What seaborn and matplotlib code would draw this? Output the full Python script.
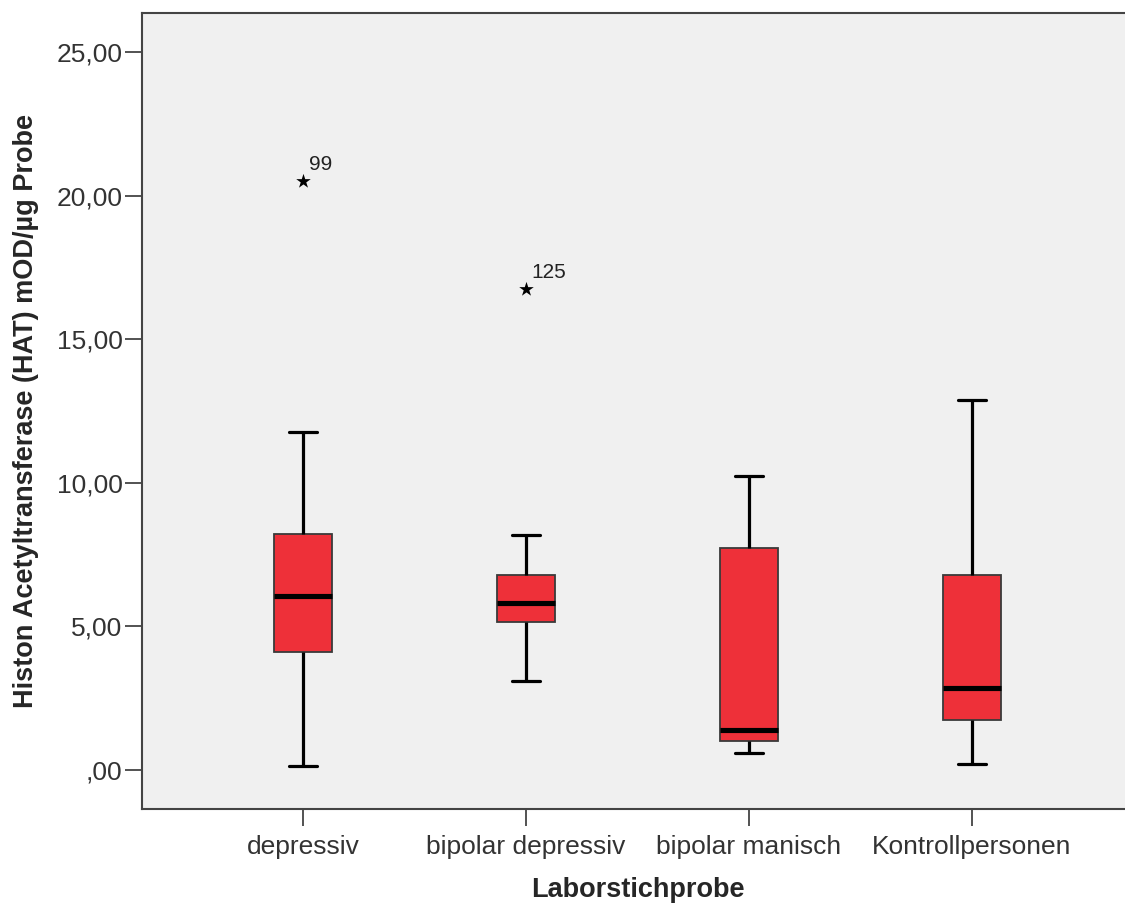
# Boxplot HAT nach Laborstichprobe (SPSS-Stil)

import numpy as np
import pandas as pd
import matplotlib.pyplot as plt
import seaborn as sns
from matplotlib.ticker import FuncFormatter

# ---- Daten ----
groups = ["depressiv", "bipolar depressiv", "bipolar manisch", "Kontrollpersonen"]
whisker_low = [0.15, 3.09, 0.60, 0.21]
q1 = [4.12, 5.16, 1.02, 1.73]
median = [6.06, 5.81, 1.40, 2.87]
q3 = [8.22, 6.80, 7.72, 6.80]
whisker_high = [11.78, 8.19, 10.24, 12.88]

outlier_group = ["depressiv", "bipolar depressiv"]
outlier_value = [20.52, 16.74]
outlier_case = ["99", "125"]

yticks = [0, 5, 10, 15, 20, 25]

# five-number summary per group -> long table
rows = []
for i, g in enumerate(groups):
    for v in (whisker_low[i], q1[i], median[i], q3[i], whisker_high[i]):
        rows.append({"Laborstichprobe": g, "HAT": v})
df = pd.DataFrame(rows)
df_out = pd.DataFrame({"Laborstichprobe": outlier_group, "HAT": outlier_value})

# ---- Plot ----
sns.set_style("ticks")
plt.rcParams['font.family'] = ['Liberation Sans', 'DejaVu Sans']

fig = plt.figure(figsize=(11.25, 9.08), dpi=100)
ax = fig.add_axes([142 / 1125, 1 - 809 / 908, (1133 - 142) / 1125, (809 - 13) / 908])
ax.set_facecolor("#F0F0F0")

red = "#EE3039"
sns.boxplot(data=df, x="Laborstichprobe", y="HAT", order=groups, ax=ax,
            color=red, saturation=1, width=0.256, whis=(0, 100),
            boxprops={"edgecolor": "#3a3a3a", "linewidth": 1.3},
            whiskerprops={"color": "black", "linewidth": 2.3},
            capprops={"color": "black", "linewidth": 2.3},
            medianprops={"color": "black", "linewidth": 3.7})

sns.stripplot(data=df_out, x="Laborstichprobe", y="HAT", order=groups, ax=ax,
              jitter=False, marker="*", color="black", size=11, linewidth=0)

for g, v, c in zip(outlier_group, outlier_value, outlier_case):
    ax.annotate(c, (groups.index(g), v), xytext=(4, 5), textcoords="offset points",
                ha="left", va="bottom", fontsize=15, color="#222222")

ax.set_xlim(-0.722, 3.722)
ax.set_ylim(-1.36, 26.36)
ax.set_yticks(yticks)
ax.yaxis.set_major_formatter(FuncFormatter(
    lambda v, p: ",00" if v == 0 else f"{v:.2f}".replace(".", ",")))

for s in ["left", "bottom", "top"]:
    ax.spines[s].set_color("#444444")
    ax.spines[s].set_linewidth(1.5)
ax.spines["right"].set_visible(False)

ax.tick_params(axis="both", length=12, width=1.3, color="#444444",
               labelsize=19, labelcolor="#333333")
ax.tick_params(axis="y", pad=2)
ax.tick_params(axis="x", pad=7)

ax.set_ylabel("Histon Acetyltransferase (HAT) mOD/µg Probe",
              fontsize=19.5, fontweight="bold", labelpad=13)
ax.set_xlabel("Laborstichprobe", fontsize=19.5, fontweight="bold", labelpad=13)

fig.savefig("out.png", dpi=100)
